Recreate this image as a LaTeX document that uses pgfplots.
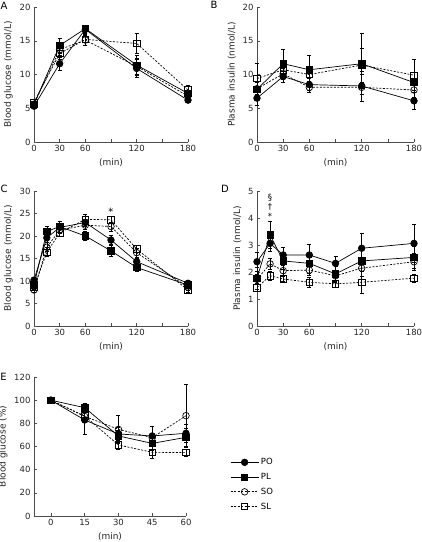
\documentclass[border=0pt]{standalone}
\usepackage{fontspec}
\setmainfont{DejaVu Sans}
\usepackage{pgfplots}
\pgfplotsset{compat=1.18}
\pgfplotsset{
 panel/.style={
  scale only axis, anchor=south west,
  axis lines=left, axis line style={-, draw=black!70, line width=0.6pt},
  tick align=inside, major tick length=3pt,
  tick style={draw=black!70, line width=0.5pt},
  xtick pos=bottom, ytick pos=left,
  /pgf/number format/assume math mode=true,
  tick label style={font=\fontsize{8.5}{9}\selectfont, text=black!85},
  label style={font=\fontsize{9}{10}\selectfont, text=black!85},
  xlabel={(min)},
  clip=false,
 },
 err/.style={error bars/.cd, y dir=both, y explicit,
   error bar style={line width=0.5pt, solid, black},
   error mark options={rotate=90, mark size=2pt, line width=0.5pt, solid}},
 PO/.style={black, line width=0.7pt, solid, mark=*, mark size=3.3pt, mark options={solid, fill=black}, err},
 PL/.style={black, line width=0.7pt, solid, mark=square*, mark size=3.2pt, mark options={solid, fill=black}, err},
 SO/.style={black, line width=0.7pt, dash pattern=on 2pt off 1.5pt, mark=o, mark size=3.3pt, mark options={solid, fill=white}, err},
 SL/.style={black, line width=0.7pt, dash pattern=on 2pt off 1.5pt, mark=square, mark size=3.2pt, mark options={solid, fill=white}, err},
}
\begin{document}
\begin{tikzpicture}
\useasboundingbox (0,0) rectangle (422pt,542pt);
% ---------- A ----------
\begin{axis}[panel, at={(34pt,400pt)}, width=154pt, height=135pt,
  xmin=0, xmax=180, ymin=0, ymax=20,
  xtick={0,30,60,90,120,150,180}, xticklabels={0,30,60,,120,,180},
  ytick={0,5,10,15,20}, ylabel={Blood glucose (mmol/L)}]
\addplot[SL] coordinates {(0,5.9)+-(0,0.4) (30,13.1)+-(0,0.9) (60,15.2)+-(0,0.8) (120,14.6)+-(0,1.5) (180,7.7)+-(0,0.7)};
\addplot[SO] coordinates {(0,5.6)+-(0,0.3) (30,13.7)+-(0,0.8) (60,15.1)+-(0,0.7) (120,11.2)+-(0,1.2) (180,6.8)+-(0,0.5)};
\addplot[PL] coordinates {(0,5.6)+-(0,0.3) (30,14.3)+-(0,1.1) (60,16.8)+-(0,0.5) (120,11.4)+-(0,1.5) (180,7.2)+-(0,0.4)};
\addplot[PO] coordinates {(0,5.3)+-(0,0.3) (30,11.6)+-(0,1.0) (60,16.7)+-(0,0.6) (120,10.9)+-(0,1.3) (180,6.2)+-(0,0.3)};
\end{axis}
% ---------- B ----------
\begin{axis}[panel, at={(257pt,400pt)}, width=157pt, height=135pt,
  xmin=0, xmax=180, ymin=0, ymax=20,
  xtick={0,30,60,90,120,150,180}, xticklabels={0,30,60,,120,,180},
  ytick={0,5,10,15,20}, ylabel={Plasma insulin (nmol/L)}]
\addplot[SL] coordinates {(0,9.4)+-(0,2.3) (30,10.7)+-(0,1.2) (60,10.0)+-(0,1.0) (120,11.4)+-(0,2.5) (180,9.9)+-(0,2.3)};
\addplot[SO] coordinates {(0,7.9)+-(0,1.0) (30,10.1)+-(0,0.8) (60,8.1)+-(0,0.8) (120,8.1)+-(0,2.0) (180,7.7)+-(0,1.0)};
\addplot[PL] coordinates {(0,7.8)+-(0,1.2) (30,11.6)+-(0,2.2) (60,10.7)+-(0,2.2) (120,11.6)+-(0,4.5) (180,8.8)+-(0,1.5)};
\addplot[PO] coordinates {(0,6.5)+-(0,1.1) (30,9.7)+-(0,0.8) (60,8.5)+-(0,0.9) (120,8.3)+-(0,2.2) (180,6.1)+-(0,1.2)};
\end{axis}
% ---------- C ----------
\begin{axis}[panel, at={(34pt,216pt)}, width=154pt, height=135pt,
  xmin=0, xmax=180, ymin=0, ymax=30,
  xtick={0,30,60,90,120,150,180}, xticklabels={0,30,60,,120,,180},
  ytick={0,5,10,15,20,25,30}, ylabel={Blood glucose (mmol/L)}]
\addplot[SL] coordinates {(0,8.6)+-(0,0.5) (15,16.4)+-(0,1.0) (30,20.7)+-(0,0.8) (60,23.7)+-(0,1.1) (90,23.6)+-(0,0.7) (120,17.1)+-(0,0.8) (180,8.0)+-(0,0.6)};
\addplot[SO] coordinates {(0,8.0)+-(0,0.6) (15,17.5)+-(0,1.0) (30,21.3)+-(0,0.8) (60,22.4)+-(0,1.0) (90,22.1)+-(0,1.0) (120,16.3)+-(0,1.0) (180,8.6)+-(0,0.6)};
\addplot[PL] coordinates {(0,9.1)+-(0,0.6) (15,21.0)+-(0,1.2) (30,22.1)+-(0,1.2) (60,20.0)+-(0,1.0) (90,16.7)+-(0,1.2) (120,13.0)+-(0,0.9) (180,9.1)+-(0,0.7)};
\addplot[PO] coordinates {(0,10.2)+-(0,0.6) (15,19.6)+-(0,1.0) (30,21.9)+-(0,1.0) (60,23.0)+-(0,0.8) (90,19.1)+-(0,1.0) (120,14.3)+-(0,0.8) (180,9.5)+-(0,0.6)};
\node[font=\fontsize{10}{10}\selectfont] at (axis cs:90,25.3) {*};
\end{axis}
% ---------- D ----------
\begin{axis}[panel, at={(257pt,216pt)}, width=157pt, height=135pt,
  xmin=0, xmax=180, ymin=0, ymax=5,
  xtick={0,30,60,90,120,150,180}, xticklabels={0,30,60,,120,,180},
  ytick={0,1,2,3,4,5}, ylabel={Plasma insulin (nmol/L)}]
\addplot[SL] coordinates {(0,1.42)+-(0,0.15) (15,1.86)+-(0,0.15) (30,1.74)+-(0,0.1) (60,1.62)+-(0,0.2) (90,1.56)+-(0,0.12) (120,1.62)+-(0,0.4) (180,1.77)+-(0,0.15)};
\addplot[SO] coordinates {(0,1.73)+-(0,0.2) (15,2.30)+-(0,0.2) (30,2.05)+-(0,0.2) (60,2.07)+-(0,0.2) (90,1.86)+-(0,0.2) (120,2.14)+-(0,0.3) (180,2.38)+-(0,0.3)};
\addplot[PL] coordinates {(0,1.77)+-(0,0.4) (15,3.37)+-(0,0.5) (30,2.41)+-(0,0.3) (60,2.32)+-(0,0.35) (90,1.93)+-(0,0.3) (120,2.41)+-(0,0.4) (180,2.54)+-(0,0.4)};
\addplot[PO] coordinates {(0,2.38)+-(0,0.35) (15,3.06)+-(0,0.3) (30,2.63)+-(0,0.3) (60,2.63)+-(0,0.4) (90,2.32)+-(0,0.25) (120,2.88)+-(0,0.55) (180,3.06)+-(0,0.7)};
\node[font=\fontsize{8.5}{8}\selectfont] at (axis cs:15,4.05) {*};
\node[font=\fontsize{8.5}{8}\selectfont] at (axis cs:15,4.4) {†};
\node[font=\fontsize{8.5}{8}\selectfont] at (axis cs:15,4.75) {§};
\end{axis}
% ---------- E ----------
\begin{axis}[panel, at={(34pt,26pt)}, width=152pt, height=139pt,
  xmin=-7.5, xmax=60, ymin=0, ymax=120,
  xtick={0,15,30,45,60}, ytick={0,20,40,60,80,100,120},
  ylabel={Blood glucose (\%)},
  legend style={at={(1.29,0.43)}, anchor=north west, draw=none, fill=none,
    font=\fontsize{8.5}{9}\selectfont, row sep=3pt, inner sep=0pt,
    nodes={inner sep=2pt}},
  legend cell align=left,
  legend image code/.code={\draw[#1] (0pt,0pt) -- (28pt,0pt); \draw[#1, only marks] plot coordinates {(14pt,0pt)};},
  reverse legend]
\addplot[SL] coordinates {(0,100)+-(0,0) (15,86.3)+-(0,4) (30,61.3)+-(0,4) (45,55.0)+-(0,5) (60,54.7)+-(0,3)};
\addplot[SO] coordinates {(0,100)+-(0,0) (15,86.0)+-(0,5) (30,74.8)+-(0,12) (45,67.6)+-(0,10) (60,86.6)+-(0,27)};
\addplot[PL] coordinates {(0,100)+-(0,0) (15,93.5)+-(0,4) (30,69.1)+-(0,5) (45,62.7)+-(0,6) (60,67.9)+-(0,8)};
\addplot[PO] coordinates {(0,100)+-(0,0) (15,82.9)+-(0,12) (30,70.8)+-(0,6) (45,69.1)+-(0,8) (60,71.4)+-(0,8)};
\legend{SL,SO,PL,PO}
\end{axis}
% panel letters
\node[font=\fontsize{10}{10}\selectfont] at (4pt,536.5pt) {A};
\node[font=\fontsize{10}{10}\selectfont] at (214pt,537pt) {B};
\node[font=\fontsize{10}{10}\selectfont] at (4pt,353pt) {C};
\node[font=\fontsize{10}{10}\selectfont] at (225pt,353pt) {D};
\node[font=\fontsize{10}{10}\selectfont] at (3.5pt,165pt) {E};
\end{tikzpicture}
\end{document}
